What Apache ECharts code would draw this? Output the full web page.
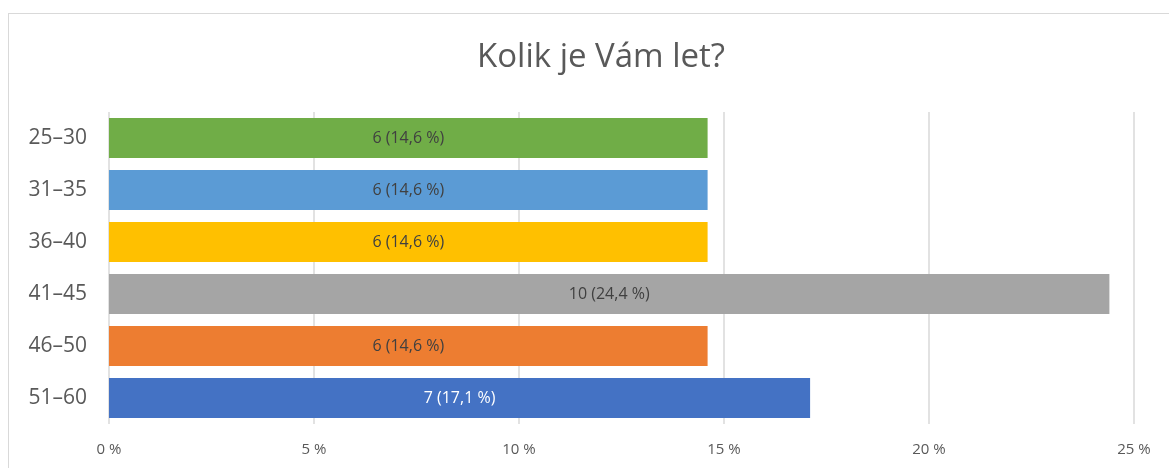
<!DOCTYPE html>
<html>
<head>
<meta charset="utf-8">
<script src="https://cdn.jsdelivr.net/npm/echarts@6/dist/echarts.min.js"></script>
<style>
    html, body { margin: 0; padding: 0; background: #fff; }
    .frame {
        position: absolute;
        left: 8px;
        top: 13px;
        width: 1200px;
        height: 500px;
        border-left: 1.5px solid #d9d9d9;
        border-top: 1.5px solid #d9d9d9;
    }
    #chart { position: absolute; left: 0; top: 0; width: 1169px; height: 468px; }
</style>
</head>
<body>
<div class="frame"></div>
<!-- graf -->
<div id="chart"></div>
<script>
// data z obrázku
const categories = ['25–30', '31–35', '36–40', '41–45', '46–50', '51–60'];
const counts = [6, 6, 6, 10, 6, 7];
const percents = [14.6, 14.6, 14.6, 24.4, 14.6, 17.1];
const barColors = ['#70AD47', '#5B9BD5', '#FFC000', '#A5A5A5', '#ED7D31', '#4472C4'];
const labelColors = ['#404040', '#404040', '#404040', '#404040', '#404040', '#ffffff'];
const xTicks = [0, 5, 10, 15, 20, 25];

const font = '"Open Sans", "Noto Sans", sans-serif';
let mychart = echarts.init(document.getElementById('chart'));
let option = {
    backgroundColor: 'transparent',
    title: {
        text: 'Kolik je Vám let?',
        left: 472,
        top: 36,
        textStyle: { color: '#595959', fontSize: 33, fontWeight: 'normal', fontFamily: font }
    },
    grid: { left: 109, right: 35, top: 112, bottom: 44 },
    xAxis: {
        type: 'value',
        min: xTicks[0],
        max: xTicks[xTicks.length - 1],
        interval: 5,
        axisLine: { show: false },
        axisTick: { show: false },
        splitLine: { lineStyle: { color: '#d9d9d9', width: 1.5 } },
        axisLabel: {
            color: '#595959',
            fontSize: 15,
            fontFamily: font,
            margin: 18,
            formatter: v => v + ' %'
        }
    },
    yAxis: {
        type: 'category',
        data: categories,
        inverse: true,
        axisLine: { show: false },
        axisTick: { show: false },
        axisLabel: { color: '#595959', fontSize: 21, fontFamily: font, margin: 22 }
    },
    series: [{
        type: 'bar',
        barWidth: 40,
        data: percents.map((p, i) => ({
            value: p,
            itemStyle: { color: barColors[i] },
            label: { color: labelColors[i] }
        })),
        label: {
            show: true,
            position: 'inside',
            fontSize: 16,
            fontFamily: font,
            formatter: p => counts[p.dataIndex] + ' (' + percents[p.dataIndex].toFixed(1).replace('.', ',') + ' %)'
        }
    }]
};
mychart.setOption(option);
window.addEventListener('resize', () => mychart.resize());
</script>
</body>
</html>
